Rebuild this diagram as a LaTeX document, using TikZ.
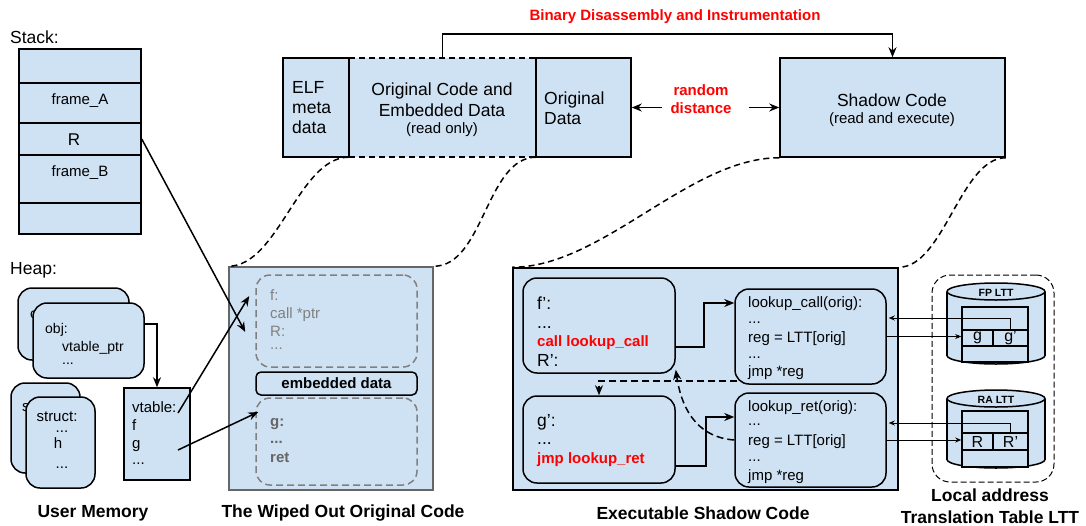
\documentclass[tikz,border=0pt]{standalone}
\usepackage{fontspec}
\setmainfont{Liberation Sans}
\usetikzlibrary{arrows.meta,positioning}
\definecolor{boxblue}{HTML}{CFE2F3}
\definecolor{wipegray}{HTML}{666666}
\definecolor{codegray}{HTML}{808080}
\definecolor{hotred}{HTML}{FF0000}
\newcommand{\fbig}{\fontsize{17.5}{21}\selectfont}
\newcommand{\fR}{\fontsize{17}{20}\selectfont}
\newcommand{\fmid}{\fontsize{15}{18}\selectfont}
\newcommand{\fsm}{\fontsize{14}{17}\selectfont}
\newcommand{\fcell}{\fontsize{16}{19}\selectfont}
\newcommand{\ftiny}{\fontsize{10.5}{12}\selectfont}
\newcommand{\ddd}{...}
\tikzstyle{box}=[draw, fill=boxblue, line width=1.5pt, inner sep=0pt]
\tikzstyle{rbox}=[box, rounded corners=14pt]
\tikzstyle{codebox}=[draw=codegray, line width=1.5pt, dash pattern=on 7pt off 4pt, rounded corners=14pt, inner sep=0pt]
\tikzstyle{txt}=[inner sep=0pt, anchor=base west, font=\fmid]
\tikzstyle{ctxt}=[inner sep=0pt, anchor=base, font=\fmid]
\tikzstyle{redtxt}=[txt, text=hotred, font=\fmid\bfseries]
\tikzstyle{link}=[draw, line width=1.5pt, -{Stealth[length=10pt,width=8pt]}]
\tikzstyle{dlink}=[link, dash pattern=on 7pt off 4pt]
\tikzstyle{thinlink}=[draw, line width=0.9pt, -{Stealth[length=6pt,width=5pt]}]
\tikzstyle{bridge}=[draw, line width=1.5pt, dash pattern=on 6pt off 4pt]
\tikzstyle{caption}=[font=\fbig\bfseries, inner sep=0pt]

\begin{document}
\begin{tikzpicture}[x=1pt, y=-1pt]
    \useasboundingbox (0,0) rectangle (1086,525);

    % Stack
    \node[font=\fbig, anchor=west, inner sep=0pt] (stacklbl) at (10,37) {Stack:};
    \foreach \cy/\h/\name in {66/34/stkA, 103/40/stkB, 139/32/stkC, 179/48/stkD, 218.5/31/stkE}
        \node[box, minimum width=122pt, minimum height=\h pt] (\name) at (80,\cy) {};
    \node[font=\fmid, inner sep=0pt] (frameA) at (80,101) {frame\_A};
    \node[font=\fR, inner sep=0pt] (retR) at (74,140) {R};
    \node[font=\fmid, inner sep=0pt] (frameB) at (80,173) {frame\_B};

    % Heap
    \node[font=\fbig, anchor=west, inner sep=0pt] (heaplbl) at (10,270) {Heap:};
    \node[rbox, minimum width=111pt, minimum height=72pt] (objB) at (73.5,324) {};
    \node[txt, font=\fsm] (objBtxt) at (30,318) {obj:};
    \node[rbox, minimum width=111pt, minimum height=75pt] (objF) at (88.5,340.5) {};
    \node[txt, font=\fsm] (objF1) at (45,333) {obj:};
    \node[txt, font=\fsm] (objF2) at (62,351) {vtable\_ptr};
    \node[txt, font=\fsm] (objF3) at (62,364) {\ddd};

    \node[rbox, minimum width=69pt, minimum height=90pt] (strB) at (45.5,428) {};
    \node[txt] (strBtxt) at (22,411) {s};
    \node[rbox, minimum width=69pt, minimum height=91pt] (strF) at (60.5,442.5) {};
    \foreach \x/\y/\t [count=\i] in {57/421/struct:, 62/432/\ddd, 58/448/h, 62/468/\ddd}
        \node[ctxt] (strF\i) at (\x,\y) {\t};

    \node[box, minimum width=66pt, minimum height=92pt] (vtable) at (157,434) {};
    \foreach \y/\t [count=\i] in {412/vtable:, 430/f, 448/g, 464/\ddd}
        \node[txt] (vt\i) at (132,\y) {\t};
    \draw[link] ([yshift=16.5pt]objF.east) -| (vtable.north);

    % Top row
    \node[fill=boxblue, inner sep=0pt, minimum width=187pt, minimum height=99pt] (orig) at (442.5,107.5) {};
    \draw[bridge] (orig.north west) -- (orig.north east);
    \draw[bridge] (orig.south west) -- (orig.south east);
    \node[box, minimum width=66pt, minimum height=99pt] (elf) at (316,107.5) {};
    \node[box, minimum width=95pt, minimum height=99pt] (odata) at (583.5,107.5) {};
    \node[box, minimum width=225pt, minimum height=99pt] (shadow) at (892.5,107.5) {};
    \foreach \y/\t [count=\i] in {93/ELF, 113/meta, 133.5/data}
        \node[txt, font=\fbig] (elf\i) at (292,\y) {\t};
    \node[ctxt, font=\fbig] (orig1) at (442,95) {Original Code and};
    \node[ctxt, font=\fbig] (orig2) at (442,116) {Embedded Data};
    \node[ctxt] (orig3) at (442,133) {(read only)};
    \node[txt, font=\fbig] (odata1) at (544,104) {Original};
    \node[txt, font=\fbig] (odata2) at (544,124) {Data};
    \node[ctxt, font=\fbig] (shadow1) at (892,106) {Shadow Code};
    \node[ctxt] (shadow2) at (892,123) {(read and execute)};

    \node[ctxt, text=hotred, font=\fmid\bfseries] (title) at (675,20) {Binary Disassembly and Instrumentation};
    \draw[link] (orig.north) -- ++(0,-24) -| (shadow.north);
    \node[ctxt, text=hotred, font=\fmid\bfseries] (rand1) at (701,95.5) {random};
    \node[ctxt, text=hotred, font=\fmid\bfseries] (rand2) at (701,113.5) {distance};
    \coordinate (rdL) at (662,107.5);
    \coordinate (rdR) at (749,107.5);
    \draw[link] (rdL) -- (odata.east);
    \draw[link] (rdR) -- (shadow.west);

    % The wiped out original code
    \node[draw=wipegray, fill=boxblue, line width=1.5pt, inner sep=0pt, minimum width=204pt, minimum height=223pt] (wiped) at (331,378.5) {};
    \node[codebox, minimum width=161pt, minimum height=92pt] (cbox1) at (336.5,321) {};
    \foreach \y/\t [count=\i] in {300/f:, 318/call *ptr, 336/R:, 349/\ddd}
        \node[txt, text=codegray] (wf\i) at (270,\y) {\t};
    \node[box, rounded corners=5pt, minimum width=161pt, minimum height=23pt, font=\fmid\bfseries] (embed) at (336.5,383.5) {embedded data};
    \node[codebox, minimum width=161pt, minimum height=87pt] (cbox2) at (336.5,441.5) {};
    \foreach \y/\t [count=\i] in {426/g:, 443/\ddd, 462.5/ret}
        \node[txt, text=wipegray, font=\fmid\bfseries] (wg\i) at (270,\y) {\t};

    \draw[link] (stkC.east) -- ([shift={(-10pt,-11pt)}]cbox1.west);
    \draw[link] ([shift={(21pt,21pt)}]vtable.center) -- ([shift={(-6pt,25pt)}]cbox1.west);
    \draw[link] ([shift={(21pt,-16pt)}]vtable.center) -- ([shift={(3pt,29.5pt)}]cbox2.west);

    % Executable shadow code
    \node[box, minimum width=385pt, minimum height=222pt] (exec) at (705.5,379) {};
    \node[rbox, minimum width=152pt, minimum height=95pt] (fpr) at (599,325.5) {};
    \node[rbox, minimum width=152pt, minimum height=87pt] (gpr) at (599,439.5) {};
    \node[rbox, minimum width=151pt, minimum height=95pt] (lkcall) at (810.5,336.5) {};
    \node[rbox, minimum width=151pt, minimum height=94pt] (lkret) at (810.5,440) {};

    \node[txt, font=\fbig] (fp1) at (537,309) {f':};
    \node[txt, font=\fbig] (fp2) at (537,328) {\ddd};
    \node[redtxt] (fp3) at (537,346) {call lookup\_call};
    \node[txt, font=\fbig] (fp4) at (537,366) {R':};
    \node[txt, font=\fbig] (gp1) at (537,426) {g':};
    \node[txt, font=\fbig] (gp2) at (537,444) {\ddd};
    \node[redtxt] (gp3) at (537,463) {jmp lookup\_ret};

    \foreach \y/\t [count=\i] in {307/lookup\_call(orig):, 323/\ddd, 342/reg = LTT[orig], 358/\ddd, 376/jmp *reg}
        \node[txt] (lkc\i) at (748,\y) {\t};
    \foreach \y/\t [count=\i] in {411/lookup\_ret(orig):, 425/\ddd, 445/reg = LTT[orig], 461/\ddd, 480/jmp *reg}
        \node[txt] (lkr\i) at (748,\y) {\t};

    \draw[link] ([yshift=-21.5pt]fpr.east) -- ++(28,0) |- ([yshift=33.5pt]lkcall.west);
    \draw[link] ([yshift=-26.5pt]gpr.east) -- ++(30,0) |- ([yshift=23pt]lkret.west);
    \draw[dlink] ([shift={(3pt,4pt)}]lkcall.south west) -| (gpr.north);
    \draw[dlink] (lkret.west) .. controls +(-40,-3) and +(5,35) .. ([yshift=4pt]fpr.south east);

    % Bridges from the binary to the memory views
    \draw[bridge] (orig.south west) .. controls +(-50,0) and +(50,0) .. (wiped.north west);
    \draw[bridge] (orig.south east) .. controls +(-50,0) and +(50,0) .. (wiped.north east);
    \draw[bridge] (shadow.south west) .. controls +(-90,0) and +(90,0) .. (exec.north west);
    \draw[bridge] (shadow.south east) .. controls +(-45,0) and +(45,0) .. (exec.north east);

    % Local address translation tables
    \node[draw, line width=1pt, dash pattern=on 6pt off 3pt, rounded corners=18pt, minimum width=122pt, minimum height=207pt] (ltt) at (993,378.5) {};
    \foreach \top/\bot/\name in {291.5/355.5/FP, 398.5/459.5/RA} {
        \draw[line width=1.5pt, fill=boxblue] (996,\bot) ellipse [x radius=49pt, y radius=8.5pt];
        \fill[boxblue] (947,\top) rectangle (1045,\bot);
        \draw[line width=1.5pt] (947,\top) -- (947,\bot);
        \draw[line width=1.5pt] (1045,\top) -- (1045,\bot);
        \draw[line width=1.5pt, fill=boxblue] (996,\top) ellipse [x radius=49pt, y radius=8.5pt];
        \node[font=\ftiny\bfseries, inner sep=0pt] (\name lbl) at (996,\top+1.5) {\name{} LTT};
    }
    \node[box, minimum width=66pt, minimum height=55pt] (fptab) at (995,334.5) {};
    \node[box, minimum width=31pt, minimum height=16pt, font=\fcell] (gcell) at (977.5,338) {g};
    \node[box, minimum width=35pt, minimum height=16pt, font=\fcell] (gpcell) at (1010.5,338) {g'};
    \node[box, minimum width=66pt, minimum height=56pt] (ratab) at (995,439) {};
    \node[box, minimum width=31pt, minimum height=17pt, font=\fcell] (rcell) at (977.5,441.5) {R};
    \node[box, minimum width=35pt, minimum height=17pt, font=\fcell] (rpcell) at (1010.5,441.5) {R'};

    \draw[thinlink] (lkcall.east) -- (lkcall.east -| gcell.west);
    \draw[thinlink, shorten >=2pt] (gpcell.north) |- ([yshift=18.5pt]lkcall.east);
    \draw[thinlink] (lkret.east) -- (lkret.east -| rcell.west);
    \draw[thinlink, shorten >=2pt] (rpcell.north) |- ([yshift=17pt]lkret.east);

    % Captions
    \node[caption] (capuser) at (93,513) {User Memory};
    \node[caption] (capwiped) at (343,513) {The Wiped Out Original Code};
    \node[caption] (capexec) at (703,513) {Executable Shadow Code};
    \node[caption] (capltt1) at (990,495) {Local address};
    \node[caption] (capltt2) at (990,517) {Translation Table LTT};
\end{tikzpicture}
\end{document}
